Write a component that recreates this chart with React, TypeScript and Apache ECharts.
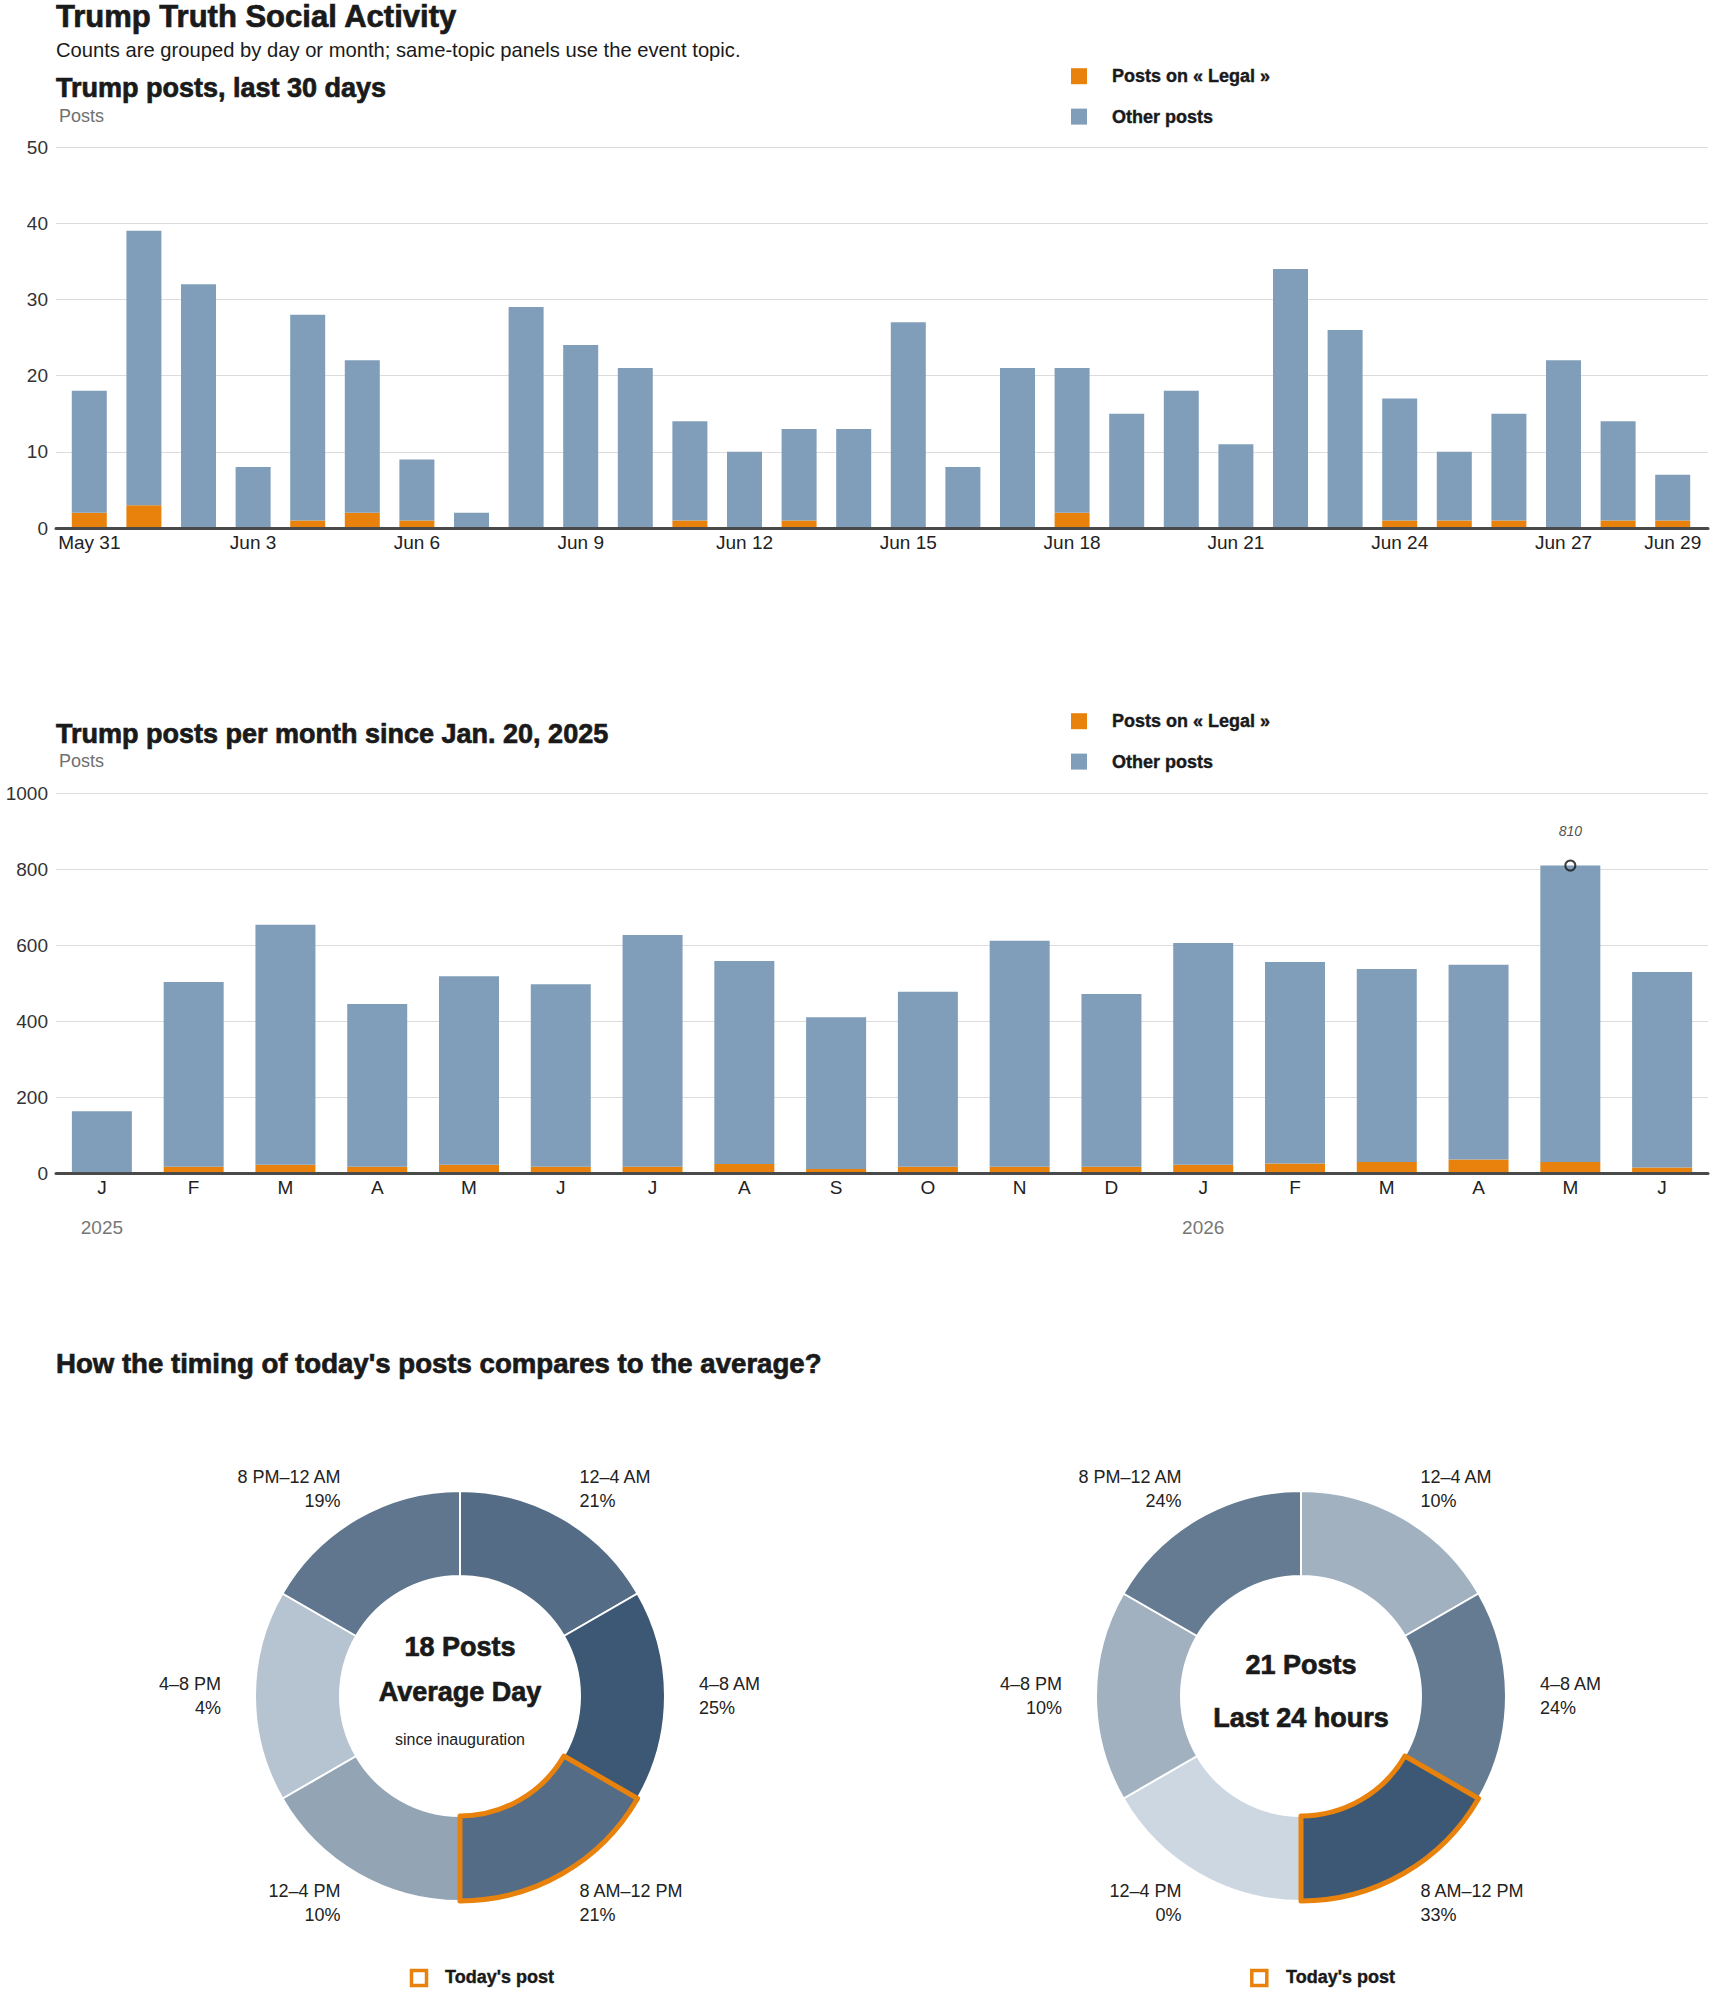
import React, { useEffect, useRef } from "react";
import * as echarts from "echarts";

const FONT = "'Liberation Sans', Arial, Helvetica, sans-serif";

// ---------- Data ----------
const dayLabels = [
  "May 31", "Jun 1", "Jun 2", "Jun 3", "Jun 4", "Jun 5", "Jun 6", "Jun 7", "Jun 8", "Jun 9",
  "Jun 10", "Jun 11", "Jun 12", "Jun 13", "Jun 14", "Jun 15", "Jun 16", "Jun 17", "Jun 18", "Jun 19",
  "Jun 20", "Jun 21", "Jun 22", "Jun 23", "Jun 24", "Jun 25", "Jun 26", "Jun 27", "Jun 28", "Jun 29",
];
const dailyLegal = [2, 3, 0, 0, 1, 2, 1, 0, 0, 0, 0, 1, 0, 1, 0, 0, 0, 0, 2, 0, 0, 0, 0, 0, 1, 1, 1, 0, 1, 1];
const dailyTotal = [18, 39, 32, 8, 28, 22, 9, 2, 29, 24, 21, 14, 10, 13, 13, 27, 8, 21, 21, 15, 18, 11, 34, 26, 17, 10, 15, 22, 14, 7];

const monthKeys = [
  "2025-01", "2025-02", "2025-03", "2025-04", "2025-05", "2025-06", "2025-07", "2025-08", "2025-09",
  "2025-10", "2025-11", "2025-12", "2026-01", "2026-02", "2026-03", "2026-04", "2026-05", "2026-06",
];
const monthInitials = ["J", "F", "M", "A", "M", "J", "J", "A", "S", "O", "N", "D"];
const monthlyLegal = [0, 18, 23, 18, 23, 18, 18, 25, 12, 18, 18, 18, 23, 26, 30, 37, 30, 16];
const monthlyTotal = [164, 504, 654, 446, 519, 498, 627, 559, 411, 478, 612, 472, 606, 556, 538, 549, 810, 530];

const timeSlots = ["12–4 AM", "4–8 AM", "8 AM–12 PM", "12–4 PM", "4–8 PM", "8 PM–12 AM"];
const slotHours = [4, 4, 4, 4, 4, 4];
const averageShare = [21, 25, 21, 10, 4, 19];
const todayShare = [10, 24, 33, 0, 10, 24];
const todaySlot = "8 AM–12 PM";
const averagePosts = 18;
const todayPosts = 21;

const LEGAL_NAME = "Posts on « Legal »";
const OTHER_NAME = "Other posts";

// ---------- Styles ----------
const ORANGE = "#e8820c";
const BLUE = "#809eb9";
const GRID = "#dcdcdc";
const AXIS = "#4a4a4a";
const INK = "#1a1a1a";
const SHADE_LOW = "#cdd7e1";
const SHADE_HIGH = "#3d5874";

function hexToRgb(h: string) {
  const n = parseInt(h.slice(1), 16);
  return [(n >> 16) & 255, (n >> 8) & 255, n & 255];
}
function shade(t: number) {
  const a = hexToRgb(SHADE_LOW);
  const b = hexToRgb(SHADE_HIGH);
  const c = a.map((v, i) => Math.round(v + (b[i] - v) * t));
  return "#" + c.map((v) => v.toString(16).padStart(2, "0")).join("");
}

const txt = (x: number, y: number, text: string, size: number, weight: string | number, color: string, align = "left", extra: any = {}) => ({
  type: "text",
  x,
  y,
  silent: true,
  style: {
    text,
    fill: color,
    fontSize: size,
    fontWeight: weight,
    fontFamily: FONT,
    align,
    verticalAlign: "middle",
    ...extra,
  },
});
const heavy = { stroke: INK, lineWidth: 0.7 };

function buildOption() {
  const dailyOther = dailyTotal.map((v, i) => v - dailyLegal[i]);
  const monthlyOther = monthlyTotal.map((v, i) => v - monthlyLegal[i]);
  const peakIdx = monthlyTotal.indexOf(Math.max(...monthlyTotal));

  const donut = (shares: number[], cx: number, cy: number) => {
    const max = Math.max(...shares);
    const base = {
      type: "pie",
      center: [cx, cy],
      radius: [120, 205],
      startAngle: 90,
      clockwise: true,
      avoidLabelOverlap: false,
      silent: true,
      emphasis: { disabled: true },
      itemStyle: { borderColor: "#fff", borderWidth: 2 },
      label: {
        show: true,
        position: "outside",
        formatter: (p: any) => `${p.name}\n${shares[p.dataIndex]}%`,
        fontSize: 18,
        lineHeight: 24,
        color: "#222",
        fontFamily: FONT,
        distanceToLabelLine: 0,
      },
      labelLine: { show: false, length: 34, length2: 0 },
      data: timeSlots.map((s, i) => ({
        name: s,
        value: slotHours[i],
        itemStyle: { color: shade(shares[i] / max) },
      })),
      z: 2,
    };
    const overlay = {
      type: "pie",
      center: [cx, cy],
      radius: [120, 205],
      startAngle: 90,
      clockwise: true,
      silent: true,
      emphasis: { disabled: true },
      label: { show: false },
      labelLine: { show: false },
      data: timeSlots.map((s, i) => ({
        name: s,
        value: slotHours[i],
        itemStyle:
          s === todaySlot
            ? { color: "rgba(0,0,0,0)", borderColor: ORANGE, borderWidth: 5 }
            : { color: "rgba(0,0,0,0)", borderWidth: 0 },
      })),
      z: 4,
    };
    return [base, overlay];
  };

  const legendCommon = {
    orient: "vertical",
    left: 1071,
    padding: 0,
    itemWidth: 16,
    itemHeight: 16,
    itemGap: 22,
    icon: "rect",
    selectedMode: false,
    data: [LEGAL_NAME, OTHER_NAME],
    textStyle: {
      fontFamily: FONT, fontSize: 18, fontWeight: "bold", color: INK, padding: [0, 0, 0, 20],
      textBorderColor: INK, textBorderWidth: 0.4,
    },
  };

  return {
    animation: false,
    backgroundColor: "#fff",
    textStyle: { fontFamily: FONT },
    legend: [
      { ...legendCommon, top: 67 },
      { ...legendCommon, top: 712 },
    ],
    grid: [
      { left: 56, width: 1652, top: 147, height: 381 },
      { left: 62, width: 1638, top: 147, height: 381 },
      { left: 56, width: 1652, top: 793.3, height: 380.2 },
    ],
    xAxis: [
      {
        gridIndex: 0, type: "value", min: 0, max: 1, z: 10,
        axisLine: { show: true, lineStyle: { color: AXIS, width: 3 } },
        axisTick: { show: false }, axisLabel: { show: false }, splitLine: { show: false },
      },
      {
        gridIndex: 1, type: "category", data: dayLabels,
        axisLine: { show: false }, axisTick: { show: false },
        axisLabel: {
          interval: (i: number) => i % 3 === 0 || i === dayLabels.length - 1,
          color: "#222", fontSize: 19, margin: 5, fontFamily: FONT,
        },
      },
      {
        gridIndex: 2, type: "category", data: monthKeys, z: 10,
        axisLine: { show: true, lineStyle: { color: AXIS, width: 3 } },
        axisTick: { show: false },
        axisLabel: {
          interval: 0, color: "#222", fontSize: 19, margin: 4, fontFamily: FONT,
          formatter: (v: string) => monthInitials[parseInt(v.slice(5), 10) - 1],
        },
      },
      {
        gridIndex: 2, type: "category", data: monthKeys, position: "bottom", offset: 40,
        axisLine: { show: false }, axisTick: { show: false },
        axisLabel: {
          interval: 0, color: "#777", fontSize: 19, margin: 4, fontFamily: FONT,
          formatter: (v: string) => (v.endsWith("-01") ? v.slice(0, 4) : ""),
        },
      },
    ],
    yAxis: [
      {
        gridIndex: 0, type: "value", min: 0, max: 50, interval: 10,
        axisLine: { show: false }, axisTick: { show: false },
        axisLabel: { color: "#333", fontSize: 19, margin: 8, fontFamily: FONT, formatter: (v: number) => String(v) },
        splitLine: { lineStyle: { color: GRID, width: 1 } },
      },
      { gridIndex: 1, type: "value", min: 0, max: 50, show: false, splitLine: { show: false } },
      {
        gridIndex: 2, type: "value", min: 0, max: 1000, interval: 200,
        axisLine: { show: false }, axisTick: { show: false },
        axisLabel: { color: "#333", fontSize: 19, margin: 8, fontFamily: FONT, formatter: (v: number) => String(v) },
        splitLine: { lineStyle: { color: GRID, width: 1 } },
      },
    ],
    series: [
      {
        name: LEGAL_NAME, type: "bar", xAxisIndex: 1, yAxisIndex: 1, stack: "daily",
        barWidth: 35, itemStyle: { color: ORANGE }, data: dailyLegal, silent: true,
      },
      {
        name: OTHER_NAME, type: "bar", xAxisIndex: 1, yAxisIndex: 1, stack: "daily",
        barWidth: 35, itemStyle: { color: BLUE }, data: dailyOther, silent: true,
      },
      {
        name: LEGAL_NAME, type: "bar", xAxisIndex: 2, yAxisIndex: 2, stack: "monthly",
        barWidth: 60, itemStyle: { color: ORANGE }, data: monthlyLegal, silent: true,
      },
      {
        name: OTHER_NAME, type: "bar", xAxisIndex: 2, yAxisIndex: 2, stack: "monthly",
        barWidth: 60, itemStyle: { color: BLUE }, data: monthlyOther, silent: true,
      },
      {
        name: "peak", type: "scatter", xAxisIndex: 2, yAxisIndex: 2, silent: true,
        data: [[monthKeys[peakIdx], monthlyTotal[peakIdx]]],
        symbol: "circle", symbolSize: 10, z: 12,
        itemStyle: { color: "rgba(0,0,0,0)", borderColor: "#111", borderWidth: 2 },
        label: {
          show: true, position: "top", distance: 22, color: "#222", fontSize: 14,
          fontStyle: "italic", fontFamily: FONT,
          formatter: (p: any) => String(p.value[1]),
        },
      },
      ...donut(averageShare, 460, 1696),
      ...donut(todayShare, 1301, 1696),
    ],
    graphic: [
      txt(56, 16, "Trump Truth Social Activity", 31, "bold", INK, "left", heavy),
      txt(56, 50, "Counts are grouped by day or month; same-topic panels use the event topic.", 20.2, "normal", INK),
      txt(56, 88, "Trump posts, last 30 days", 27, "bold", INK, "left", heavy),
      txt(59, 116, "Posts", 18, "normal", "#707070"),
      txt(56, 734, "Trump posts per month since Jan. 20, 2025", 27, "bold", INK, "left", heavy),
      txt(59, 761, "Posts", 18, "normal", "#707070"),
      txt(56, 1363, "How the timing of today's posts compares to the average?", 27.6, "bold", INK, "left", heavy),
      txt(460, 1647, `${averagePosts} Posts`, 27, "bold", INK, "center", heavy),
      txt(460, 1692, "Average Day", 27, "bold", INK, "center", heavy),
      txt(460, 1739, "since inauguration", 16, "normal", "#222", "center"),
      txt(1301, 1665, `${todayPosts} Posts`, 27, "bold", INK, "center", heavy),
      txt(1301, 1718, "Last 24 hours", 27, "bold", INK, "center", heavy),
      {
        type: "rect", silent: true,
        shape: { x: 411.5, y: 1970.5, width: 15, height: 15 },
        style: { fill: "#fff", stroke: ORANGE, lineWidth: 3.5 },
      },
      txt(445, 1977, "Today's post", 18, "bold", INK, "left", { stroke: INK, lineWidth: 0.4 }),
      {
        type: "rect", silent: true,
        shape: { x: 1251.8, y: 1970.5, width: 15, height: 15 },
        style: { fill: "#fff", stroke: ORANGE, lineWidth: 3.5 },
      },
      txt(1286, 1977, "Today's post", 18, "bold", INK, "left", { stroke: INK, lineWidth: 0.4 }),
    ],
  };
}

export default function App() {
  const ref = useRef<HTMLDivElement>(null);
  useEffect(() => {
    document.body.style.margin = "0";
    const chart = echarts.init(ref.current!, undefined, { renderer: "svg" });
    chart.setOption(buildOption() as any);
    return () => chart.dispose();
  }, []);
  return <div ref={ref} style={{ width: 1710, height: 1993 }} />;
}
